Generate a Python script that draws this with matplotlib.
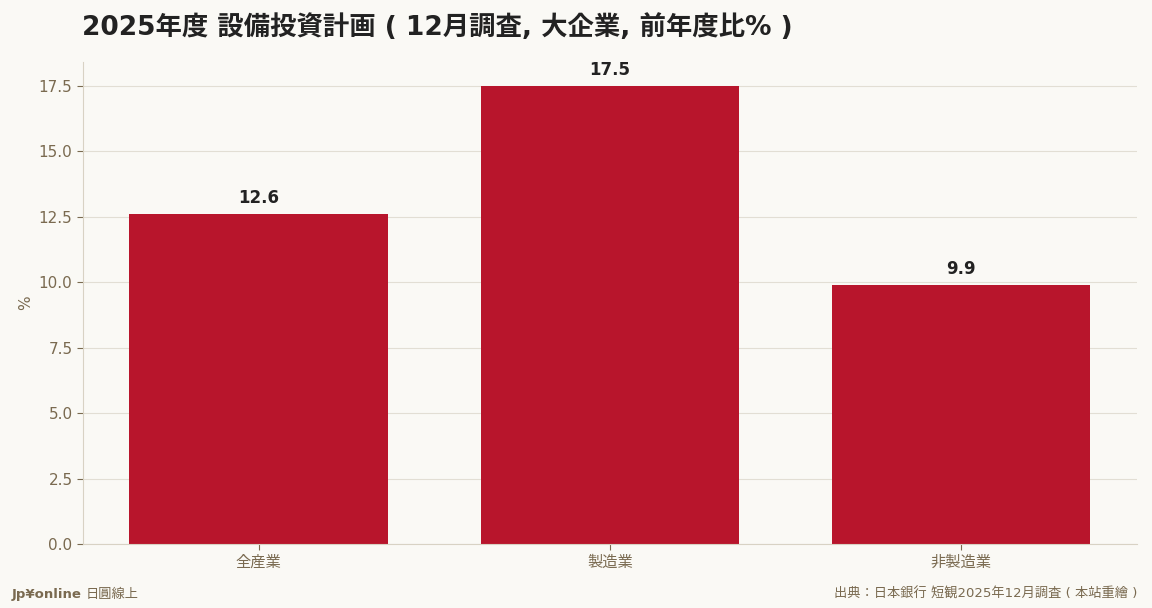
import matplotlib
matplotlib.use("Agg")
import matplotlib.pyplot as plt

plt.rcParams['font.family'] = ['DejaVu Sans', 'Noto Sans CJK JP']

categories = ["全産業", "製造業", "非製造業"]
values = [12.6, 17.5, 9.9]
yticks = [0.0, 2.5, 5.0, 7.5, 10.0, 12.5, 15.0, 17.5]

bg = "#faf9f5"
fig = plt.figure(figsize=(11.52, 6.08), dpi=100, facecolor=bg)
ax = fig.add_axes([0.072, 0.105, 0.915, 0.793], facecolor=bg)
x = range(len(categories))
ax.bar(x, values, width=0.735, color="#b8152c", zorder=2)
ax.set_xlim(-0.5, 2.5)
ax.set_ylim(0, 18.4)
ax.set_yticks(yticks)
ax.set_yticklabels([f"{v:.1f}" for v in yticks])
ax.set_xticks(list(x))
ax.set_xticklabels(categories)
ax.grid(axis='y', color="#e2ded4", linewidth=0.8, zorder=3)
for s in ['top', 'right']:
    ax.spines[s].set_visible(False)
for s in ['left', 'bottom']:
    ax.spines[s].set_color("#d8d2c4")
ax.tick_params(colors="#7a6a50", labelsize=11, length=4)
ax.tick_params(axis='y', colors="#7a6a50", labelcolor="#7a6a50")
for lbl in ax.get_yticklabels():
    lbl.set_color("#7a6a50")
ax.set_ylabel("%", color="#7a6a50", fontsize=11)
for xi, v in zip(x, values):
    ax.text(xi, v + 0.25, f"{v}", ha='center', va='bottom', fontsize=12, fontweight='bold', color="#222222")

fig.text(0.071, 0.955, "2025年度 設備投資計画 ( 12月調査, 大企業, 前年度比% )", fontsize=19, fontweight='bold', color="#222222", va='center')
fig.text(0.010, 0.022, "Jp¥online", fontsize=9.5, fontweight='bold', color="#7a6a50", va='center')
fig.text(0.074, 0.022, "日圓線上", fontsize=9.5, color="#7a6a50", va='center')
fig.text(0.987, 0.022, "出典：日本銀行 短観2025年12月調査 ( 本站重繪 )", fontsize=9.5, color="#7a6a50", va='center', ha='right')
fig.savefig("out.png", dpi=100, facecolor=bg)
